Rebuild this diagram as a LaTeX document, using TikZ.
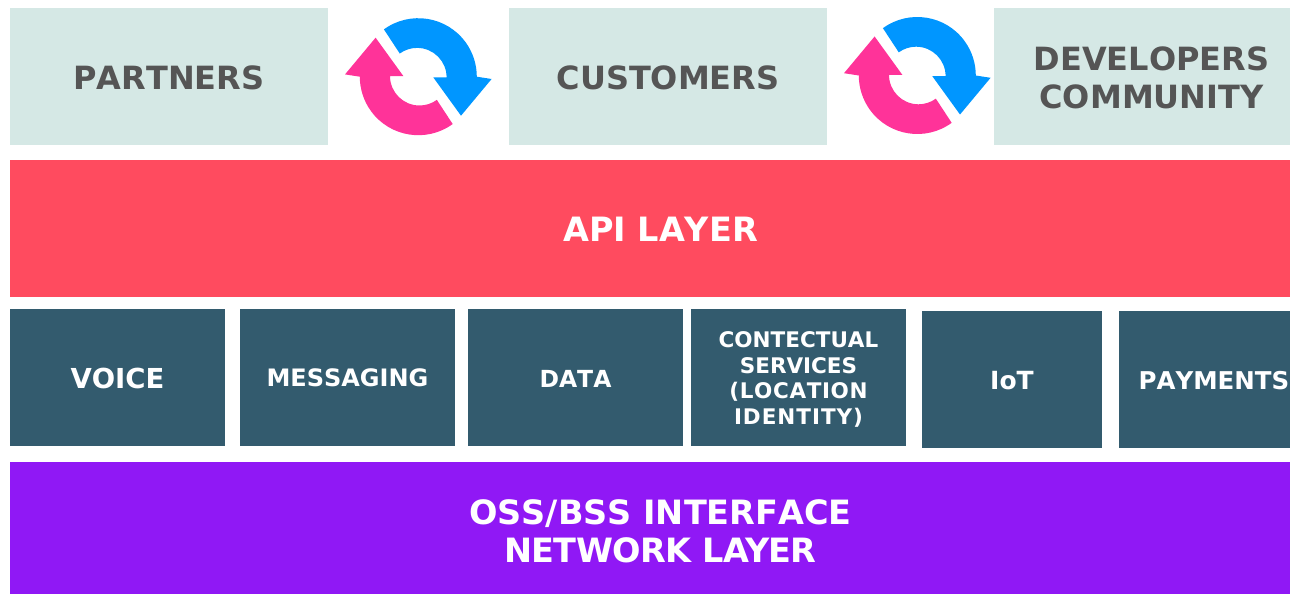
\documentclass[tikz,border=0pt]{standalone}
\usepackage{fontspec}
\setmainfont[Kerning=Off]{DejaVu Sans}
\usetikzlibrary{positioning}
\definecolor{paleteal}{HTML}{D5E8E5}
\definecolor{apired}{HTML}{FF4B5F}
\definecolor{slate}{HTML}{335B6E}
\definecolor{netpurple}{HTML}{9018F5}
\definecolor{syncblue}{HTML}{0096FF}
\definecolor{syncpink}{HTML}{FF3399}
\definecolor{labelgrey}{HTML}{555555}
\tikzset{
	layerbox/.style={minimum height=#1pt,inner sep=0pt,outer sep=0pt,align=center},
	toptext/.style={font=\fontsize{32}{38}\selectfont\bfseries,text=labelgrey,align=center,inner sep=0pt,yshift=-1pt},
	whitetext/.style={font=\fontsize{33.5}{38}\selectfont\bfseries,text=white,align=center,inner sep=0pt},
	servicetext/.style={font=\fontsize{#1}{25.5}\selectfont\bfseries,text=white,align=center,inner sep=0pt,yshift=-1pt}
}
\begin{document}
\begin{tikzpicture}[x=1pt,y=-1pt]
	\useasboundingbox (0,0) rectangle (1290,594);
	% top row
	\foreach \cx/\w/\name in {169/318/Partners,668/318/Customers,1142/296/Developers}
		\node[layerbox=137,minimum width=\w pt,fill=paleteal] (\name) at (\cx,76.5) {};
	\node[toptext] (PartnersText) at (Partners) {PARTNERS};
	\node[toptext] (CustomersText) at (Customers) {CUSTOMERS};
	\node[toptext,xshift=9.5pt] (DevelopersText) at (Developers) {DEVELOPERS\\COMMUNITY};
	% sync arrows
	\foreach \cx/\cy/\col/\rot [count=\n] in {418.3/76.7/syncblue/0,418.3/76.7/syncpink/180,917.3/75.5/syncblue/0,917.3/75.5/syncpink/180}
		\fill[\col,shift={(\cx,\cy)},rotate=\rot]
			(-126:58.5) arc[start angle=-126,end angle=0,radius=58.5]
			-- (73.3,2.3) -- (42.7,39) -- (15,0.7) -- (28.3,0.7)
			arc[start angle=0,end angle=-126,radius=29.5] -- cycle;
	% layers
	\node[layerbox=137,minimum width=1280pt,fill=apired] (Api) at (650,228.5) {};
	\node[whitetext,xshift=10.5pt,yshift=-1pt] (ApiText) at (Api) {API LAYER};
	\node[layerbox=132,minimum width=1280pt,fill=netpurple] (Oss) at (650,528) {};
	\node[whitetext,xshift=10.5pt,yshift=-3pt] (OssText) at (Oss) {OSS/BSS INTERFACE\\{\addfontfeature{Kerning=On,LetterSpace=-2}NETWORK LAYER}};
	% services
	\foreach \cx/\cy/\w/\name in {117.5/377.5/215/Voice,347.5/377.5/215/Messaging,575.5/377.5/215/Data,798.5/377.5/215/Contectual,1012/379.5/180/Iot,1204.5/379.5/171/Payments}
		\node[layerbox=137,minimum width=\w pt,fill=slate] (\name) at (\cx,\cy) {};
	\node[servicetext=27.5] (VoiceText) at (Voice) {VOICE};
	\node[servicetext=24,yshift=1pt] (MessagingText) at (Messaging) {MESSAGING};
	\node[servicetext=23.5] (DataText) at (Data) {DATA};
	\node[servicetext=21.5,yshift=-1pt] (ContectualText) at (Contectual) {CONTECTUAL\\SERVICES\\{\addfontfeature{LetterSpace=3}(LOCATION}\\{\addfontfeature{LetterSpace=4.5}IDENTITY)}};
	\node[servicetext=25] (IotText) at (Iot) {IoT};
	\node[servicetext=24.5,xshift=9.5pt] (PaymentsText) at (Payments) {PAYMENTS};
\end{tikzpicture}
\end{document}
